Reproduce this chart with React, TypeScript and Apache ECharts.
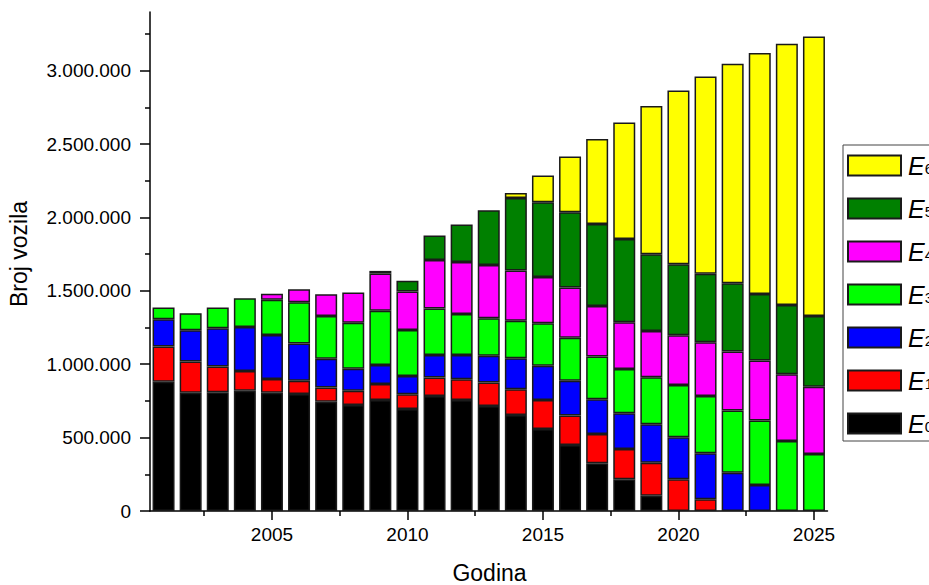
import React, { useEffect, useRef } from "react";
import * as echarts from "echarts";

const years = [2001,2002,2003,2004,2005,2006,2007,2008,2009,2010,2011,2012,2013,2014,2015,2016,2017,2018,2019,2020,2021,2022,2023,2024,2025];

const seriesNames = ["E0","E1","E2","E3","E4","E5","E6"];
const seriesColors = ["#000000","#ff0000","#0000ff","#00ff00","#ff00ff","#008000","#ffff00"];

const e0 = [881000,806000,809000,820000,806000,798000,745000,723000,757000,695000,784000,757000,716000,654000,559000,450000,325000,216000,104000,0,0,0,0,0,0];
const e1 = [239000,212000,175000,134000,94000,90000,96000,97000,109000,100000,125000,141000,159000,176000,198000,200000,200000,207000,225000,216000,80000,0,0,0,0];
const e2 = [187000,214000,261000,300000,300000,253000,197000,150000,129000,125000,154000,165000,182000,211000,233000,238000,236000,243000,262000,286000,313000,261000,177000,0,0];
const e3 = [79000,116000,141000,196000,240000,282000,291000,312000,370000,314000,316000,280000,257000,256000,289000,293000,291000,302000,320000,357000,391000,423000,439000,477000,389000];
const e4 = [0,0,0,0,41000,88000,148000,206000,253000,261000,332000,354000,363000,341000,316000,341000,345000,318000,316000,339000,366000,402000,409000,455000,458000];
const e5 = [0,0,0,0,0,0,0,0,18000,73000,166000,255000,373000,494000,509000,514000,559000,568000,523000,484000,466000,466000,454000,472000,482000];
const e6 = [0,0,0,0,0,0,0,0,0,0,0,0,0,34000,182000,379000,578000,793000,1009000,1183000,1344000,1495000,1641000,1779000,1904000];

const seriesValues = [e0, e1, e2, e3, e4, e5, e6];

const yMajorTicks = [0, 500000, 1000000, 1500000, 2000000, 2500000, 3000000];
const yMinorTicks = [250000, 750000, 1250000, 1750000, 2250000, 2750000, 3250000];
const xMajorTicks = [2005, 2010, 2015, 2020, 2025];
const xMinorTicks = [2002.5, 2007.5, 2012.5, 2017.5, 2022.5];

const FONT = "'Liberation Sans', Arial, sans-serif";

function fmt(v: number): string {
  return String(Math.round(v)).replace(/\B(?=(\d{3})+(?!\d))/g, ".");
}

export default function App() {
  const ref = useRef<HTMLDivElement>(null);
  useEffect(() => {
    document.body.style.margin = "0";
    if (!ref.current) return;
    const chart = echarts.init(ref.current, null, { renderer: "svg" });
    const axisLineStyle = { color: "#000", width: 1.5 };
    const series = seriesNames.map((name, i) => ({
      name,
      type: "bar",
      stack: "total",
      xAxisIndex: 0,
      yAxisIndex: 0,
      barWidth: 22,
      itemStyle: { color: seriesColors[i], borderColor: "#1a1a1a", borderWidth: 1.5 },
      data: seriesValues[i].map((v) => (v === 0 ? null : v)),
    }));
    chart.setOption({
      animation: false,
      textStyle: { fontFamily: FONT },
      grid: { left: 150, right: 101.5, top: 12, bottom: 74, containLabel: false },
      xAxis: [
        {
          type: "category",
          data: years.map(String),
          boundaryGap: true,
          position: "bottom",
          axisLine: { show: false, onZero: false },
          axisTick: { show: false },
          axisLabel: { show: false },
          splitLine: { show: false },
        },
        {
          type: "value",
          min: 2000.5,
          max: 2025.5,
          position: "bottom",
          axisLine: { show: true, onZero: false, lineStyle: axisLineStyle },
          axisTick: { show: true, inside: false, length: 9, customValues: xMajorTicks, lineStyle: axisLineStyle },
          axisLabel: { show: true, customValues: xMajorTicks, fontSize: 19, margin: 14, color: "#000", fontFamily: FONT, formatter: (v: number) => String(v) },
          splitLine: { show: false },
        },
        {
          type: "value",
          min: 2000.5,
          max: 2025.5,
          position: "bottom",
          axisLine: { show: false, onZero: false },
          axisTick: { show: true, inside: false, length: 5, customValues: xMinorTicks, lineStyle: axisLineStyle },
          axisLabel: { show: false },
          splitLine: { show: false },
        },
      ],
      yAxis: [
        {
          type: "value",
          min: 0,
          max: 3400000,
          position: "left",
          axisLine: { show: true, onZero: false, lineStyle: axisLineStyle },
          axisTick: { show: true, inside: false, length: 10, customValues: yMajorTicks, lineStyle: axisLineStyle },
          axisLabel: { show: true, customValues: yMajorTicks, fontSize: 19, margin: 19, color: "#000", fontFamily: FONT, formatter: (v: number) => fmt(v) },
          splitLine: { show: false },
        },
        {
          type: "value",
          min: 0,
          max: 3400000,
          position: "left",
          axisLine: { show: false, onZero: false },
          axisTick: { show: true, inside: false, length: 5, customValues: yMinorTicks, lineStyle: axisLineStyle },
          axisLabel: { show: false },
          splitLine: { show: false },
        },
      ],
      legend: {
        orient: "vertical",
        left: 843,
        top: 145,
        padding: [8, 60, 5, 4],
        itemWidth: 53,
        itemHeight: 20,
        itemGap: 18,
        borderColor: "#444",
        borderWidth: 1,
        icon: "rect",
        data: seriesNames.slice().reverse(),
        formatter: (name: string) => `{e|E}{s|${name.slice(1)}}`,
        textStyle: {
          color: "#000",
          rich: {
            e: { fontSize: 25, fontStyle: "italic", fontFamily: FONT, lineHeight: 20, color: "#000", padding: [0, 0, 0, 2] },
            s: { fontSize: 15, fontFamily: FONT, lineHeight: 4, verticalAlign: "bottom", color: "#000" },
          },
        },
      },
      graphic: [
        {
          type: "text",
          x: 18.5,
          y: 254,
          rotation: Math.PI / 2,
          style: { text: "Broj vozila", fontSize: 23, fontFamily: FONT, fill: "#000", align: "center", verticalAlign: "middle" },
        },
        {
          type: "text",
          x: 489.5,
          y: 573,
          style: { text: "Godina", fontSize: 23, fontFamily: FONT, fill: "#000", align: "center", verticalAlign: "middle" },
        },
      ],
      series,
    });
    return () => chart.dispose();
  }, []);
  return <div ref={ref} style={{ width: 929, height: 585 }} />;
}
